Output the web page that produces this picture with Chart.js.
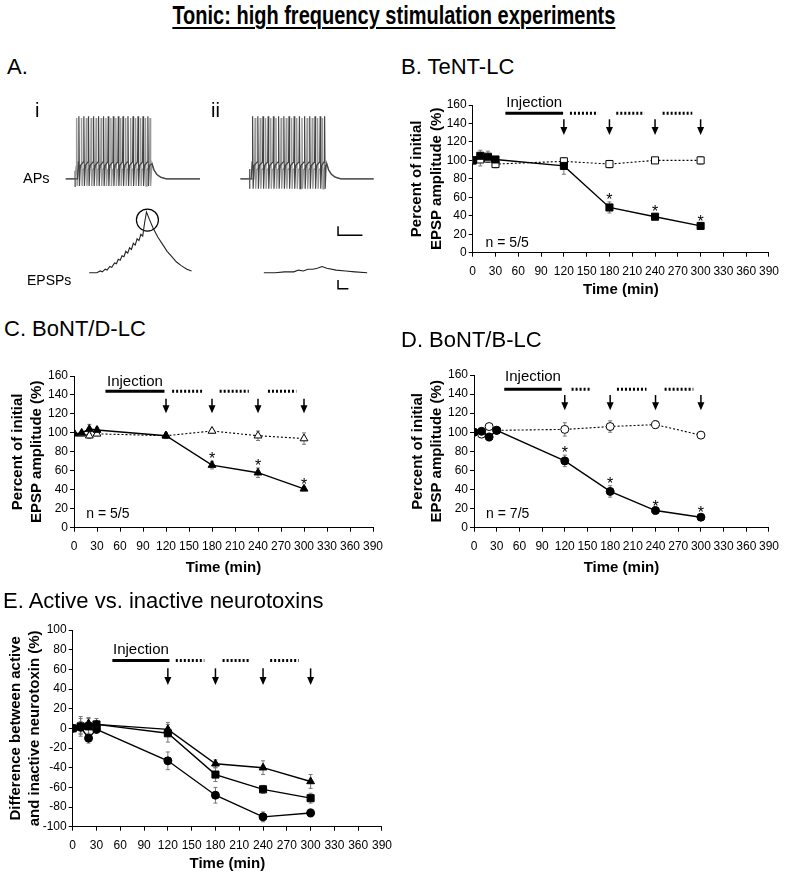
<!DOCTYPE html>
<html>
<head>
<meta charset="utf-8">
<script src="https://cdn.jsdelivr.net/npm/chart.js@4.4.1/dist/chart.umd.min.js"></script>
<style>
  html, body { margin: 0; padding: 0; background: #fff; }
  body { width: 787px; height: 879px; position: relative; overflow: hidden;
         font-family: "Liberation Sans", Arial, sans-serif; color: #000; }
  canvas { position: absolute; }
  .txt { position: absolute; white-space: nowrap; }
  .hdr { font-size: 22px; line-height: 26px; }
</style>
</head>
<body>
<canvas id="panelA" width="400" height="230" style="left:0;top:80px"></canvas>
<canvas id="panelB" width="387" height="215" style="left:400px;top:90px"></canvas>
<canvas id="panelC" width="400" height="233" style="left:0;top:350px"></canvas>
<canvas id="panelD" width="387" height="233" style="left:400px;top:350px"></canvas>
<canvas id="panelE" width="400" height="269" style="left:0;top:610px"></canvas>

<div class="txt" style="left:0;top:0;width:787px;text-align:center">
  <span style="display:inline-block;font-weight:bold;font-size:25px;line-height:30px;text-decoration:underline;text-decoration-thickness:2px;text-underline-offset:3px;transform:scaleX(0.8)">Tonic: high frequency stimulation experiments</span>
</div>
<div class="txt hdr" style="left:7px;top:54px">A.</div>
<div class="txt hdr" style="left:401px;top:54px">B. TeNT-LC</div>
<div class="txt hdr" style="left:4px;top:316px">C. BoNT/D-LC</div>
<div class="txt hdr" style="left:401px;top:327px">D. BoNT/B-LC</div>
<div class="txt hdr" style="left:3px;top:588px">E. Active vs. inactive neurotoxins</div>
<div class="txt" style="left:35px;top:98px;font-size:20px;line-height:24px">i</div>
<div class="txt" style="left:211px;top:98px;font-size:20px;line-height:24px">ii</div>
<div class="txt" style="left:23px;top:170px;font-size:14.5px;line-height:17px">APs</div>
<div class="txt" style="left:27px;top:272px;font-size:14px;line-height:17px">EPSPs</div>

<script>
Chart.defaults.font.family = '"Liberation Sans", Arial, sans-serif';
Chart.defaults.color = '#000';

// sampling times (min) shared by all panels
const timeMin = [0, 10, 20, 30, 120, 180, 240, 300];
const testTimes = [120, 180, 240, 300];

// B. TeNT-LC
const tentActive = [100, 105, 104, 101, 94, 49, 39, 29];
const tentActiveErr = [0, 6, 6, 3, 9, 6, 3, 2];
const tentInactive = [100, 101, 102, 96, 99, 96, 100, 100];
const tentInactiveErr = [0, 7, 4, 4, 3, 4, 2, 4];

// C. BoNT/D-LC
const bontdActive = [99, 100, 104, 103, 97, 66, 58, 41];
const bontdActiveErr = [0, 2, 5, 3, 3, 4, 5, 2];
const bontdInactive = [100, 99, 97, 99, 97, 102, 97, 94];
const bontdInactiveErr = [0, 2, 3, 2, 2, 2, 5, 6];

// D. BoNT/B-LC
const bontbActive = [100, 101, 95, 102, 70, 38, 18, 11];
const bontbActiveErr = [0, 2, 4, 2, 6, 6, 2, 2];
const bontbInactive = [100, 98, 106, 102, 103, 106, 108, 97];
const bontbInactiveErr = [0, 2, 2, 2, 7, 6, 4, 2];

// E. active minus inactive
const diffBontd = [0, 2, 5, 4, -1, -36, -40, -54];
const diffBontdErr = [0, 8, 6, 4, 7, 4, 7, 7];
const diffTent = [0, 2, 2, 4, -5, -47, -62, -71];
const diffTentErr = [0, 10, 8, 6, 9, 7, 4, 5];
const diffBontb = [0, 1, -10, -1, -33, -68, -90, -86];
const diffBontbErr = [0, 6, 5, 4, 9, 8, 5, 4];

// A. example traces (drawing units of the trace panel)
const apSpikesIDark = [71, 76.3, 81.3, 86.7, 92, 97.3, 102.3, 107.7, 113, 118, 123.3, 128.7, 134, 139.3, 144.5];
const apSpikesIGray = [68.6, 73.8, 79, 84.1, 89.4, 94.7, 99.8, 105.1, 110.4, 115.5, 120.8, 126.1, 131.4, 136.7, 141.9, 146.8];
const apSpikesIIDark = [256, 261.6, 267.1, 272.6, 278.2, 283.7, 289.3, 294.8, 300.3, 305.9, 311.4, 316.9, 322.5, 328, 332.7];
const apSpikesIIGray = [258.7, 264.2, 269.8, 275.3, 280.9, 286.4, 291.9, 297.5, 303, 308.6, 314.1, 319.6, 325.2, 330.4];
const apDecayI = [[149, 160], [151, 167], [154, 172], [158, 175], [164, 177], [200, 177]];
const apDecayII = [[335, 160], [337, 167], [340, 172], [344, 175], [350, 177], [385, 177]];
const epspI = [[82, 282], [90, 282], [94, 280], [96, 281], [99, 278], [101, 279], [104, 275], [106, 276],
  [109, 271], [111, 272], [113, 267], [115, 268], [117, 263], [119, 264], [121, 258], [123, 260],
  [125, 254], [127, 256], [129, 249], [131, 251], [133, 244], [135, 246], [137, 239], [139, 241],
  [141, 226], [143, 214], [146, 222], [150, 232], [155, 242], [160, 250], [165, 258], [170, 264],
  [175, 270], [180, 274], [186, 278], [191, 280]];
const epspII = [[268, 282], [280, 282], [290, 281], [300, 281], [305, 279], [310, 280], [315, 278],
  [320, 278], [325, 277], [330, 275], [335, 277], [345, 279], [355, 280], [365, 281], [378, 282]];

function pts(values) {
  return timeMin.map((t, i) => ({ x: t, y: values[i] }));
}
function xy(list) {
  return list.map(([x, y]) => ({ x, y }));
}

function apTrace(spikes, peak, trough, plateau, start, decay) {
  const out = [{ x: start, y: 177 }, { x: spikes[0] - 1.5, y: 177 }];
  spikes.forEach(s => {
    out.push({ x: s - 0.5, y: plateau }, { x: s, y: peak }, { x: s + 0.6, y: trough }, { x: s + 1.6, y: plateau + 4 });
  });
  return out.concat(xy(decay));
}

function trace(data, color, width) {
  return { data, showLine: true, pointRadius: 0, borderColor: color, borderWidth: width || 1.1, tension: 0 };
}

new Chart(document.getElementById('panelA'), {
  type: 'scatter',
  data: {
    datasets: [
      trace(apTrace(apSpikesIDark, 107, 185, 158, 57, apDecayI), '#444', 1.2),
      trace(apTrace(apSpikesIGray, 109, 185, 163, 57, apDecayI), '#999', 1.4),
      trace(apTrace(apSpikesIIDark, 107, 188, 158, 243, apDecayII), '#444', 1.2),
      trace(apTrace(apSpikesIIGray, 109, 188, 163, 243, apDecayII), '#999', 1.4),
      trace(xy([[67, 168], [67, 186]]), '#333'),
      trace(xy([[253, 166], [253, 188]]), '#333'),
      trace(xy(epspI), '#222'),
      trace(xy(epspII), '#222'),
      trace(xy([[347, 230], [347, 240], [373, 240]]), '#000', 1.5),
      trace(xy([[347, 290], [347, 300], [358, 300]]), '#000', 1.5),
      { data: [{ x: 144, y: 223 }], pointRadius: 11, pointBackgroundColor: 'rgba(0,0,0,0)',
        pointBorderColor: '#000', pointBorderWidth: 1.2 }
    ]
  },
  options: {
    responsive: false, animation: false, events: [],
    layout: { padding: 0 },
    plugins: { legend: { display: false }, tooltip: { enabled: false } },
    scales: {
      x: { type: 'linear', display: false, min: 0, max: 400 },
      y: { type: 'linear', display: false, min: 80, max: 310, reverse: true }
    }
  }
});

const errorBars = {
  id: 'errorBars',
  beforeDatasetsDraw(chart) {
    const { ctx, scales: { x, y } } = chart;
    ctx.save();
    ctx.strokeStyle = '#777';
    ctx.lineWidth = 1;
    chart.data.datasets.forEach(ds => {
      if (!ds.errors) return;
      ds.data.forEach((p, i) => {
        const e = ds.errors[i];
        if (!e) return;
        const px = x.getPixelForValue(p.x);
        const top = y.getPixelForValue(p.y + e);
        const bot = y.getPixelForValue(p.y - e);
        ctx.beginPath();
        ctx.moveTo(px, top); ctx.lineTo(px, bot);
        ctx.moveTo(px - 2, top); ctx.lineTo(px + 2, top);
        ctx.moveTo(px - 2, bot); ctx.lineTo(px + 2, bot);
        ctx.stroke();
      });
    });
    ctx.restore();
  }
};

function protocol(p) {
  return {
    id: 'protocol',
    afterDatasetsDraw(chart) {
      const { ctx, scales: { x, y } } = chart;
      const X = v => x.getPixelForValue(v);
      const Y = v => y.getPixelForValue(v);
      ctx.save();
      ctx.strokeStyle = '#000';
      ctx.fillStyle = '#000';

      // injection bar + label
      ctx.lineWidth = 3;
      ctx.beginPath();
      ctx.moveTo(X(p.injection[0]), Y(p.barLevel));
      ctx.lineTo(X(p.injection[1]), Y(p.barLevel));
      ctx.stroke();
      ctx.font = '15px "Liberation Sans", Arial';
      ctx.textAlign = 'center';
      ctx.textBaseline = 'middle';
      ctx.fillText('Injection', X((p.injection[0] + p.injection[1]) / 2), Y(p.textLevel));

      // recording periods (dotted)
      ctx.setLineDash([2, 2]);
      p.periods.forEach(([a, b]) => {
        ctx.beginPath();
        ctx.moveTo(X(a), Y(p.barLevel));
        ctx.lineTo(X(b), Y(p.barLevel));
        ctx.stroke();
      });
      ctx.setLineDash([]);

      // test arrows
      ctx.lineWidth = 1.5;
      testTimes.forEach(t => {
        const px = X(t), y0 = Y(p.arrow[0]), y1 = Y(p.arrow[1]);
        ctx.beginPath();
        ctx.moveTo(px, y0);
        ctx.lineTo(px, y1 - 6);
        ctx.stroke();
        ctx.beginPath();
        ctx.moveTo(px - 3.5, y1 - 8);
        ctx.lineTo(px + 3.5, y1 - 8);
        ctx.lineTo(px, y1);
        ctx.closePath();
        ctx.fill();
      });

      // n label
      if (p.nLabel) {
        ctx.font = '14px "Liberation Sans", Arial';
        ctx.textAlign = 'left';
        ctx.textBaseline = 'middle';
        ctx.fillText(p.nLabel.text, X(p.nLabel.x), Y(p.nLabel.y));
      }

      // significance stars
      if (p.stars) {
        ctx.font = '16px "Liberation Sans", Arial';
        ctx.textAlign = 'center';
        ctx.textBaseline = 'alphabetic';
        p.stars.idx.forEach(i => {
          const top = Y(p.stars.values[i] + p.stars.errors[i]);
          ctx.fillText('*', X(timeMin[i]), top + 3);
        });
      }
      ctx.restore();
    }
  };
}

function series(values, errors, style) {
  return Object.assign({
    data: pts(values), errors, showLine: true, tension: 0,
    borderColor: '#000', pointBorderColor: '#000', pointBorderWidth: 1
  }, style);
}
const solid = { borderWidth: 1.4, pointBackgroundColor: '#000' };
const dotted = { borderWidth: 1.1, borderDash: [2, 2], pointBackgroundColor: '#fff' };

function panel(id, cfg) {
  return new Chart(document.getElementById(id), {
    type: 'scatter',
    data: { datasets: cfg.datasets },
    plugins: [errorBars, protocol(cfg.protocol)],
    options: {
      responsive: false, animation: false, events: [],
      layout: { padding: cfg.padding },
      plugins: { legend: { display: false }, tooltip: { enabled: false } },
      scales: {
        x: {
          type: 'linear', min: 0, max: 390,
          ticks: { stepSize: 30, autoSkip: false, maxRotation: 0, padding: 8, font: { size: 12 } },
          grid: { drawOnChartArea: false, drawTicks: true, tickLength: 4, tickColor: '#000' },
          border: { display: true, color: '#000', width: 1 },
          title: { display: true, text: 'Time (min)', font: { size: 15, weight: 'bold', lineHeight: 1.3 },
                   padding: { top: 0, bottom: cfg.xTitlePad } },
          afterFit: s => { s.height = cfg.xHeight; }
        },
        y: {
          type: 'linear', min: cfg.yRange[0], max: cfg.yRange[1],
          ticks: { stepSize: 20, padding: 2, font: { size: 12 } },
          grid: { drawOnChartArea: false, drawTicks: true, tickLength: 4, tickColor: '#000' },
          border: { display: true, color: '#000', width: 1 },
          title: { display: true, text: cfg.yTitle, font: { size: 15, weight: 'bold', lineHeight: 1.3 },
                   padding: { top: cfg.yTitlePad, bottom: 0 } },
          afterFit: s => { s.width = cfg.yWidth; }
        }
      }
    }
  });
}

const pctTitle = ['Percent of initial', 'EPSP amplitude (%)'];

panel('panelB', {
  datasets: [
    series(tentActive, tentActiveErr, Object.assign({ pointStyle: 'rect', pointRadius: 5 }, solid)),
    series(tentInactive, tentInactiveErr, Object.assign({ pointStyle: 'rect', pointRadius: 5 }, dotted))
  ],
  padding: { top: 15, right: 14.3, left: 0, bottom: 0 },
  yRange: [0, 160], yTitle: pctTitle, yWidth: 72.7, yTitlePad: 7.3, xHeight: 52.3, xTitlePad: 5,
  protocol: {
    injection: [43, 119], barLevel: 151, textLevel: 162, arrow: [144.5, 127.5],
    periods: [[128, 165], [189, 226], [250, 289]],
    nLabel: { text: 'n = 5/5', x: 17, y: 10 },
    stars: { values: tentActive, errors: tentActiveErr, idx: [5, 6, 7] }
  }
});

panel('panelC', {
  datasets: [
    series(bontdActive, bontdActiveErr, Object.assign({ pointStyle: 'triangle', pointRadius: 4.5 }, solid)),
    series(bontdInactive, bontdInactiveErr, Object.assign({ pointStyle: 'triangle', pointRadius: 4.5 }, dotted))
  ],
  padding: { top: 26, right: 27, left: 0, bottom: 0 },
  yRange: [0, 160], yTitle: pctTitle, yWidth: 74, yTitlePad: 7.8, xHeight: 55.3, xTitlePad: 5,
  protocol: {
    injection: [41, 118], barLevel: 144, textLevel: 154, arrow: [136, 120.6],
    periods: [[128, 167], [190, 228], [253, 290]],
    nLabel: { text: 'n = 5/5', x: 16, y: 14 },
    stars: { values: bontdActive, errors: bontdActiveErr, idx: [5, 6, 7] }
  }
});

panel('panelD', {
  datasets: [
    series(bontbActive, bontbActiveErr, Object.assign({ pointStyle: 'circle', pointRadius: 4 }, solid)),
    series(bontbInactive, bontbInactiveErr, Object.assign({ pointStyle: 'circle', pointRadius: 4 }, dotted))
  ],
  padding: { top: 25, right: 12, left: 0, bottom: 0 },
  yRange: [0, 160], yTitle: pctTitle, yWidth: 74, yTitlePad: 7.8, xHeight: 55.3, xTitlePad: 5,
  protocol: {
    injection: [40, 116], barLevel: 145, textLevel: 158, arrow: [139, 123],
    periods: [[129, 155], [189, 228], [252, 290]],
    nLabel: { text: 'n = 7/5', x: 16, y: 14 },
    stars: { values: bontbActive, errors: bontbActiveErr, idx: [4, 5, 6, 7] }
  }
});

panel('panelE', {
  datasets: [
    series(diffBontd, diffBontdErr, Object.assign({ pointStyle: 'triangle', pointRadius: 4.5 }, solid)),
    series(diffTent, diffTentErr, Object.assign({ pointStyle: 'rect', pointRadius: 5 }, solid)),
    series(diffBontb, diffBontbErr, Object.assign({ pointStyle: 'circle', pointRadius: 4 }, solid))
  ],
  padding: { top: 20, right: 16, left: 0, bottom: 0 },
  yRange: [-100, 100], yTitle: ['Difference between active', 'and inactive neurotoxin (%)'],
  yWidth: 72.7, yTitlePad: 6, xHeight: 52.3, xTitlePad: 5,
  protocol: {
    injection: [50, 122], barLevel: 69, textLevel: 80, arrow: [61, 44],
    periods: [[130, 166], [189, 224], [249, 285]]
  }
});
</script>
</body>
</html>
